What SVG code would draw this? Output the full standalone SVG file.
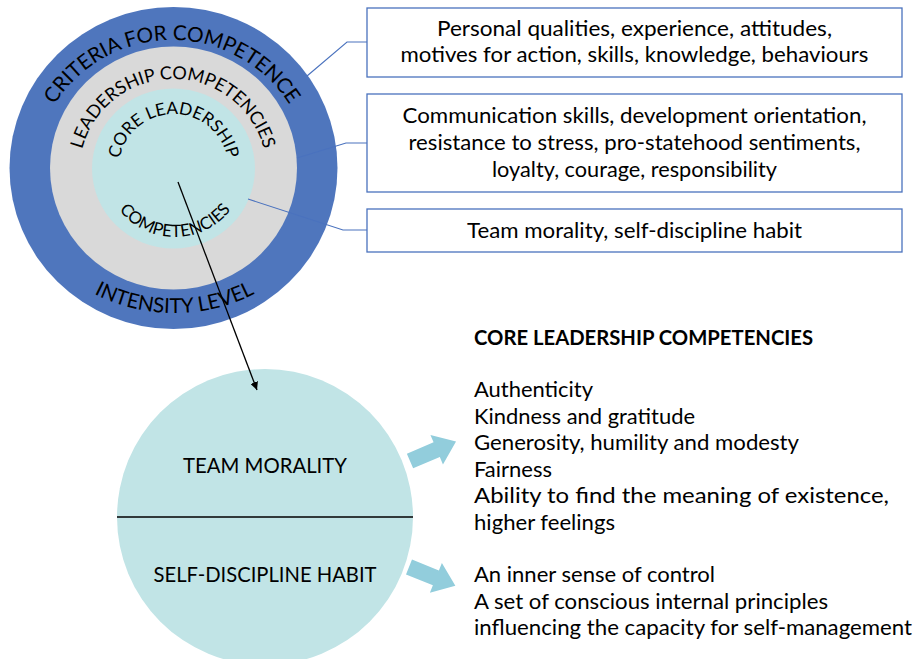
<svg xmlns="http://www.w3.org/2000/svg" xmlns:xlink="http://www.w3.org/1999/xlink" width="916" height="659" viewBox="0 0 916 659">
  <style>
    .t { font-family: Lato, "Open Sans", "Liberation Sans", sans-serif; fill: #000; }
    .box { fill: #fff; stroke: #4A72BE; stroke-width: 1.3; }
    .lead { fill: none; stroke: #4A72BE; stroke-width: 1.1; }
    .body { font-size: 21.5px; }
    .cap { font-size: 22px; }
    .blk { fill: #92CDDC; }
  </style>
  <defs>
    <marker id="tri" viewBox="0 0 10 10" refX="10" refY="5" markerWidth="8" markerHeight="8" markerUnits="userSpaceOnUse" orient="auto">
      <path d="M0,0 L10,5 L0,10 z" fill="#000"/>
    </marker>
    <!-- baselines for the curved labels -->
    <path id="arcOuterTop" d="M 82.65,285.48 A 139 139 0 1 1 261.35,285.48"/>
    <path id="arcOuterBot" d="M 60.73,0.41 A 177 177 0 1 0 288.27,0.41"/>
    <path id="arcGrayTop" d="M 112.58,245.01 A 94 94 0 1 1 233.42,245.01"/>
    <path id="arcCoreTop" d="M 138.15,211.13 A 55 55 0 1 1 208.85,211.13"/>
    <path id="arcCoreBot" d="M 129.36,111.61 A 71 71 0 1 0 220.64,111.61"/>
    <polygon id="blockArrow" points="0,-8 29,-8 29,-16 50,0 29,16 29,8 0,8"/>
  </defs>

  <!-- concentric competence model -->
  <g id="model">
    <ellipse id="ring-criteria" cx="173.5" cy="168" rx="164" ry="161" fill="#4F76BD"/>
    <ellipse id="ring-leadership" cx="173.5" cy="168" rx="123.5" ry="121.5" fill="#D9D9D9"/>
    <ellipse id="ring-core" cx="173.5" cy="168.5" rx="81.5" ry="80" fill="#C1E4E6"/>
    <text class="t" font-size="20.7"><textPath xlink:href="#arcOuterTop" startOffset="50%" text-anchor="middle">CRITERIA FOR COMPETENCE</textPath></text>
    <text class="t" font-size="20.6"><textPath xlink:href="#arcOuterBot" startOffset="50%" text-anchor="middle">INTENSITY LEVEL</textPath></text>
    <text class="t" font-size="18"><textPath xlink:href="#arcGrayTop" startOffset="50%" text-anchor="middle">LEADERSHIP COMPETENCIES</textPath></text>
    <text class="t" font-size="17.2"><textPath xlink:href="#arcCoreTop" startOffset="50%" text-anchor="middle">CORE LEADERSHIP</textPath></text>
    <text class="t" font-size="17"><textPath xlink:href="#arcCoreBot" startOffset="50%" text-anchor="middle">COMPETENCIES</textPath></text>
  </g>

  <!-- description boxes -->
  <g id="box-criteria">
    <rect class="box" x="367" y="8" width="535" height="69"/>
    <text class="t body" x="634.5" y="36" text-anchor="middle" textLength="395" lengthAdjust="spacingAndGlyphs">Personal qualities, experience, attitudes,</text>
    <text class="t body" x="634.5" y="62" text-anchor="middle" textLength="468" lengthAdjust="spacingAndGlyphs">motives for action, skills, knowledge, behaviours</text>
  </g>
  <g id="box-leadership">
    <rect class="box" x="367" y="94" width="535" height="98"/>
    <text class="t body" x="634.5" y="123" text-anchor="middle" textLength="464" lengthAdjust="spacingAndGlyphs">Communication skills, development orientation,</text>
    <text class="t body" x="634.5" y="150" text-anchor="middle" textLength="452" lengthAdjust="spacingAndGlyphs">resistance to stress, pro-statehood sentiments,</text>
    <text class="t body" x="634.5" y="176.5" text-anchor="middle" textLength="285" lengthAdjust="spacingAndGlyphs">loyalty, courage, responsibility</text>
  </g>
  <g id="box-core">
    <rect class="box" x="367" y="209" width="535" height="43"/>
    <text class="t body" x="634.5" y="238" text-anchor="middle" textLength="335" lengthAdjust="spacingAndGlyphs">Team morality, self-discipline habit</text>
  </g>

  <!-- core competencies circle -->
  <g id="core-circle">
    <circle cx="265" cy="517" r="148" fill="#C1E4E6"/>
    <line x1="117" y1="517" x2="413" y2="517" stroke="#000" stroke-width="1.3"/>
    <text class="t cap" x="265" y="473" text-anchor="middle" textLength="164" lengthAdjust="spacingAndGlyphs">TEAM MORALITY</text>
    <text class="t cap" x="265" y="582" text-anchor="middle" textLength="223" lengthAdjust="spacingAndGlyphs">SELF-DISCIPLINE HABIT</text>
  </g>

  <!-- core competencies list -->
  <g id="core-list">
    <text class="t body" x="474" y="345" font-weight="bold" textLength="339" lengthAdjust="spacingAndGlyphs">CORE LEADERSHIP COMPETENCIES</text>
    <text class="t body" x="474" y="397" textLength="119" lengthAdjust="spacingAndGlyphs">Authenticity</text>
    <text class="t body" x="474" y="423.5" textLength="221" lengthAdjust="spacingAndGlyphs">Kindness and gratitude</text>
    <text class="t body" x="474" y="450" textLength="325" lengthAdjust="spacingAndGlyphs">Generosity, humility and modesty</text>
    <text class="t body" x="474" y="476.5" textLength="78" lengthAdjust="spacingAndGlyphs">Fairness</text>
    <text class="t body" x="474" y="503" textLength="415" lengthAdjust="spacingAndGlyphs">Ability to find the meaning of existence,</text>
    <text class="t body" x="474" y="529.5" textLength="141" lengthAdjust="spacingAndGlyphs">higher feelings</text>
  </g>
  <g id="habit-list">
    <text class="t body" x="474" y="582" textLength="241" lengthAdjust="spacingAndGlyphs">An inner sense of control</text>
    <text class="t body" x="474" y="608.5" textLength="354" lengthAdjust="spacingAndGlyphs">A set of conscious internal principles</text>
    <text class="t body" x="474" y="635" textLength="438" lengthAdjust="spacingAndGlyphs">influencing the capacity for self-management</text>
  </g>

  <!-- connectors -->
  <g id="connectors">
    <polyline class="lead" points="307,76 347,42 367,42"/>
    <polyline class="lead" points="297,158 346,143 367,143"/>
    <polyline class="lead" points="248,199 343,230 367,230"/>
    <line x1="178" y1="182" x2="257" y2="390" stroke="#000" stroke-width="1.3" marker-end="url(#tri)"/>
    <use xlink:href="#blockArrow" class="blk" transform="translate(410,461) rotate(-23)"/>
    <use xlink:href="#blockArrow" class="blk" transform="translate(409,567) rotate(22)"/>
  </g>
</svg>
